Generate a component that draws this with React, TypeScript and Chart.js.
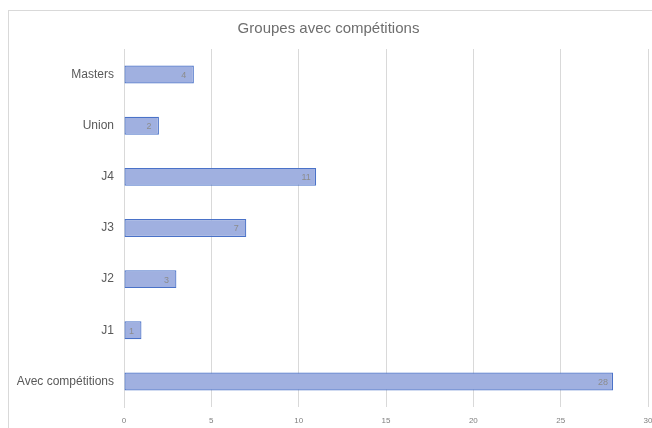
import React, { useEffect, useRef } from "react";
import { Chart, registerables } from "chart.js";

Chart.register(...registerables);

const categories: string[] = ["Masters", "Union", "J4", "J3", "J2", "J1", "Avec compétitions"];
const values: number[] = [4, 2, 11, 7, 3, 1, 28];
const xTicks: number[] = [0, 5, 10, 15, 20, 25, 30];
const title = "Groupes avec compétitions";

const barLabelPlugin = {
  id: "barLabels",
  afterDatasetsDraw(chart: any) {
    const ctx = chart.ctx;
    const meta = chart.getDatasetMeta(0);
    ctx.save();
    ctx.font = "9px 'Liberation Sans', Arial, sans-serif";
    ctx.fillStyle = "#8c8c8c";
    ctx.textAlign = "center";
    ctx.textBaseline = "middle";
    meta.data.forEach((bar: any, i: number) => {
      const txt = String(values[i]);
      ctx.fillText(txt, bar.x - 10, bar.y + 1);
    });
    ctx.restore();
  },
};

export default function App() {
  const ref = useRef<HTMLCanvasElement | null>(null);

  useEffect(() => {
    if (!ref.current) return;
    const chart = new Chart(ref.current, {
      type: "bar",
      data: {
        labels: categories,
        datasets: [
          {
            data: values,
            backgroundColor: (c: any) => {
              const el = c.element;
              const ctx = c.chart.ctx;
              if (!el || el.height === undefined || isNaN(el.y)) return "#a0b0e0";
              const h = el.height;
              const g = ctx.createLinearGradient(0, el.y - h / 2, 0, el.y + h / 2);
              g.addColorStop(0, "#b4c0ec");
              g.addColorStop(1, "#8c9fd7");
              return g;
            },
            borderColor: "#4a72c8",
            borderWidth: 1.2,
            borderSkipped: false,
            barPercentage: 1,
            categoryPercentage: 0.35,
          },
        ],
      },
      options: {
        indexAxis: "y",
        animation: false,
        responsive: false,
        devicePixelRatio: 1,
        layout: { padding: { left: 0, right: 17, top: 0, bottom: 16 } },
        plugins: {
          legend: { display: false },
          tooltip: { enabled: false },
          title: {
            display: true,
            text: title,
            color: "#6e6e6e",
            font: { size: 15, family: "'Liberation Sans', Arial, sans-serif", weight: "normal" },
            padding: { top: 9, bottom: 11 },
          },
        },
        scales: {
          x: {
            min: 0,
            max: 30,
            afterBuildTicks: (scale: any) => {
              scale.ticks = xTicks.map((v) => ({ value: v }));
            },
            afterFit: (scale: any) => {
              scale.height = 20;
            },
            grid: { color: "#d9d9d9", lineWidth: 1, drawTicks: false },
            border: { display: false },
            ticks: {
              color: "#7f7f7f",
              padding: 9,
              autoSkip: false,
              font: { size: 8, family: "'Liberation Sans', Arial, sans-serif" },
            },
          },
          y: {
            afterFit: (scale: any) => {
              scale.width = 115;
            },
            grid: { display: false, drawTicks: false },
            border: { display: true, color: "#d9d9d9", width: 1 },
            ticks: {
              color: "#595959",
              padding: 10,
              font: { size: 12, family: "'Liberation Sans', Arial, sans-serif" },
            },
          },
        },
      },
      plugins: [barLabelPlugin],
    } as any);
    return () => chart.destroy();
  }, []);

  return (
    <div
      style={{
        position: "fixed",
        left: 8,
        top: 10,
        width: 644,
        height: 418,
        overflow: "hidden",
        borderTop: "1px solid #d9d9d9",
        borderLeft: "1px solid #d9d9d9",
        background: "#fff",
      }}
    >
      <canvas ref={ref} width={656} height={432} style={{ display: "block" }} />
    </div>
  );
}
